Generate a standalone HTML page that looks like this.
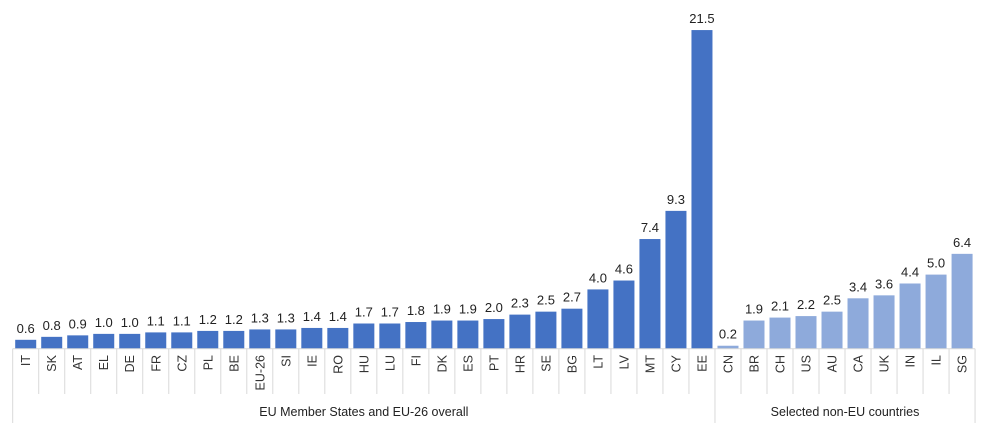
<!DOCTYPE html>
<html><head><meta charset="utf-8"><style>
html,body{margin:0;padding:0;background:#fff;}
svg{display:block;font-family:"Liberation Sans",Calibri,sans-serif;}
</style></head><body>
<svg id="c" width="991" height="440" xmlns="http://www.w3.org/2000/svg"></svg>
<script>
const d=[["IT",0.6],["SK",0.8],["AT",0.9],["EL",1.0],["DE",1.0],["FR",1.1],["CZ",1.1],["PL",1.2],["BE",1.2],["EU-26",1.3],["SI",1.3],["IE",1.4],["RO",1.4],["HU",1.7],["LU",1.7],["FI",1.8],["DK",1.9],["ES",1.9],["PT",2.0],["HR",2.3],["SE",2.5],["BG",2.7],["LT",4.0],["LV",4.6],["MT",7.4],["CY",9.3],["EE",21.5],["CN",0.2],["BR",1.9],["CH",2.1],["US",2.2],["AU",2.5],["CA",3.4],["UK",3.6],["IN",4.4],["IL",5.0],["SG",6.4]];
const x0=12.7,w=26.01,base=348.7,sc=14.82;
let s='';
d.forEach((e,i)=>{
 const bx=x0+i*w, h=e[1]*sc, top=base-h, col=i<27?'#4472c4':'#8eaadb';
 s+=`<rect x="${bx+2.5}" y="${top}" width="${w-5}" height="${h}" fill="${col}"/>`;
 s+=`<text x="${bx+w/2}" y="${top-7}" font-size="13" text-anchor="middle" fill="#222">${e[1].toFixed(1)}</text>`;
 s+=`<text transform="translate(${bx+w/2+4.5},355) rotate(-90)" font-size="12.5" text-anchor="end" fill="#333">${e[0]}</text>`;
});
for(let i=0;i<=37;i++){
 const x=x0+i*w; const long=(i==0||i==27||i==37);
 s+=`<line x1="${x}" y1="${base}" x2="${x}" y2="${long?423:394}" stroke="#d9d9d9" stroke-width="1"/>`;
}
s+=`<line x1="${x0}" y1="${base}" x2="${x0+37*w}" y2="${base}" stroke="#d9d9d9" stroke-width="1"/>`;
s+=`<text x="${x0+13.5*w}" y="416" font-size="12.5" text-anchor="middle" fill="#222">EU Member States and EU-26 overall</text>`;
s+=`<text x="${x0+32*w}" y="416" font-size="12.5" text-anchor="middle" fill="#222">Selected non-EU countries</text>`;
document.getElementById('c').innerHTML=s;
</script>
</body></html>
